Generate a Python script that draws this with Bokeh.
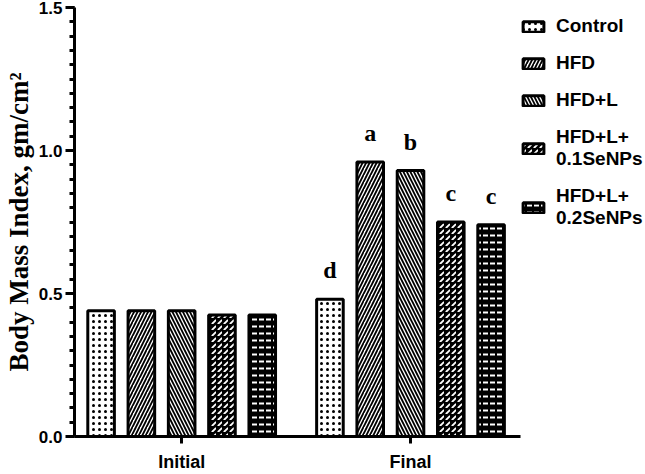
from bokeh.plotting import figure
from bokeh.models import (ColumnDataSource, Legend, LegendItem, FixedTicker, Range1d,
                          NumeralTickFormatter)
from bokeh.embed import file_html
from bokeh.resources import INLINE
from bokeh.core.properties import value

groups = ["Initial", "Final"]
treatments = ["Control", "HFD", "HFD+L", "HFD+L+\n0.1SeNPs", "HFD+L+\n0.2SeNPs"]
initial_bmi = [0.44, 0.44, 0.44, 0.425, 0.425]
final_bmi = [0.48, 0.96, 0.93, 0.75, 0.74]
initial_letters = ["", "", "", "", ""]
final_letters = ["d", "a", "b", "c", "c"]
y_ticks = [0.0, 0.5, 1.0, 1.5]

GROUP_STEP = 5.68
BAR_W = 0.66

styles = [
    dict(fill_color="white", hatch_pattern="dot", hatch_color="black", hatch_scale=6, hatch_weight=1.6),
    dict(fill_color="white", hatch_pattern="right_diagonal_line", hatch_color="black", hatch_scale=7, hatch_weight=1.8),
    dict(fill_color="white", hatch_pattern="left_diagonal_line", hatch_color="black", hatch_scale=7, hatch_weight=1.8),
    dict(fill_color="black", hatch_pattern="right_diagonal_dash", hatch_color="white", hatch_scale=6, hatch_weight=1.8),
    dict(fill_color="black", hatch_pattern="horizontal_dash", hatch_color="white", hatch_scale=7, hatch_weight=2),
]

p = figure(frame_width=446, frame_height=429,
           x_range=Range1d(-0.66, 10.41), y_range=Range1d(0, 1.5),
           output_backend="svg", toolbar_location=None,
           min_border_left=73, min_border_top=7, min_border_right=0, min_border_bottom=0)

vals_by_group = [initial_bmi, final_bmi]
letters_by_group = [initial_letters, final_letters]
items = []
for ti, t in enumerate(treatments):
    xs, tops, labs = [], [], []
    for gi, g in enumerate(groups):
        xs.append(gi * GROUP_STEP + ti)
        tops.append(vals_by_group[gi][ti])
        labs.append(letters_by_group[gi][ti])
    src = ColumnDataSource(dict(x=xs, top=tops, lab=labs))
    r = p.vbar(x="x", top="top", width=BAR_W, source=src,
               line_color="black", line_width=3, **styles[ti])
    p.text(x="x", y="top", text="lab", source=src, text_align="center",
           text_baseline="alphabetic", y_offset=-29,
           text_font=value("Liberation Serif"), text_font_style="bold",
           text_font_size="24px", text_color="black")
    items.append(LegendItem(label=t, renderers=[r]))

legend = Legend(items=items, location="top_left",
                background_fill_alpha=0, border_line_alpha=0,
                title=" ", title_text_font_size="4px", title_standoff=3,
                label_text_font="Liberation Sans", label_text_font_style="bold",
                label_text_font_size="19px", label_text_color="black",
                label_text_line_height=1.3,
                glyph_width=26, glyph_height=13,
                spacing=15, label_standoff=10, padding=0, margin=0)
p.add_layout(legend, "right")

p.xgrid.visible = False
p.ygrid.visible = False
p.outline_line_color = None

x_centers = [gi * GROUP_STEP + (len(treatments) - 1) / 2 for gi in range(len(groups))]
p.xaxis.ticker = FixedTicker(ticks=x_centers)
p.xaxis.major_label_overrides = {c: g for c, g in zip(x_centers, groups)}
p.xaxis.minor_tick_line_color = None
p.xaxis.major_tick_in = 0
p.xaxis.major_tick_out = 7
p.xaxis.major_tick_line_width = 3
p.xaxis.axis_line_width = 3
p.xaxis.major_label_text_font = "Liberation Sans"
p.xaxis.major_label_text_font_style = "bold"
p.xaxis.major_label_text_font_size = "18px"
p.xaxis.major_label_text_color = "black"
p.xaxis.major_label_standoff = 8

p.yaxis.ticker = FixedTicker(ticks=y_ticks, minor_ticks=[i * 0.05 for i in range(31)])
p.yaxis.formatter = NumeralTickFormatter(format="0.0")
p.yaxis.axis_line_width = 3
p.yaxis.major_tick_in = 0
p.yaxis.major_tick_out = 9
p.yaxis.major_tick_line_width = 3
p.yaxis.minor_tick_in = 0
p.yaxis.minor_tick_out = 5
p.yaxis.minor_tick_line_width = 3
p.yaxis.major_label_text_font = "Liberation Sans"
p.yaxis.major_label_text_font_style = "bold"
p.yaxis.major_label_text_font_size = "17px"
p.yaxis.major_label_text_color = "black"
p.yaxis.major_label_standoff = 3
p.yaxis.axis_label = "Body Mass Index, gm/cm\u00b2"
p.yaxis.axis_label_text_font = "Liberation Serif"
p.yaxis.axis_label_text_font_style = "bold"
p.yaxis.axis_label_text_font_size = "27px"
p.yaxis.axis_label_text_color = "black"
p.yaxis.axis_label_standoff = 2

open("out.html", "w").write(file_html(p, INLINE))
